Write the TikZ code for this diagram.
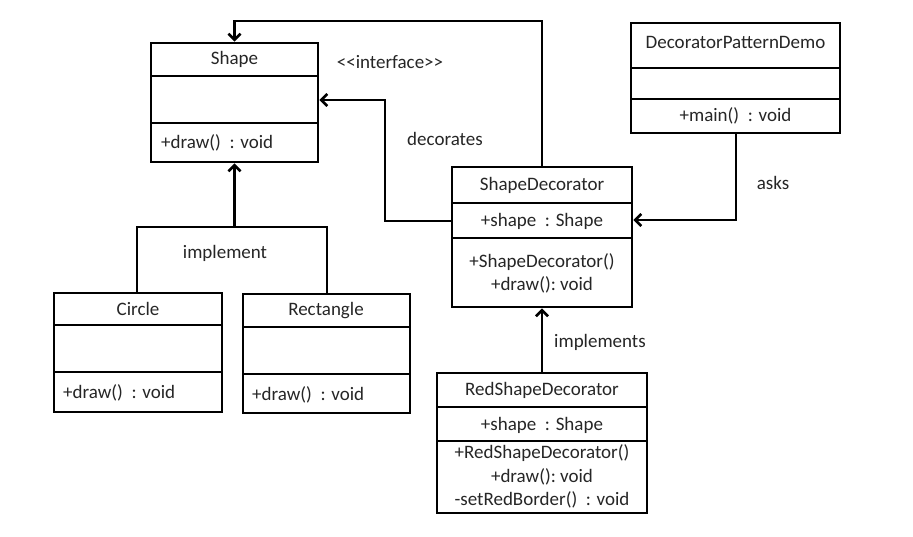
\documentclass[tikz,border=0pt]{standalone}
\usepackage{fontspec}
\setmainfont{Carlito}
\usetikzlibrary{arrows.meta,fit}
\tikzset{
  ln/.style={line width=2.7pt, draw=black},
  box/.style={ln, rectangle, inner sep=0pt, fit={#1}},
  txt/.style={font=\fontsize{19}{23}\selectfont, text=black!85, inner sep=1pt},
  arr/.style={ln, -{Straight Barb[length=6pt,width=12pt,line width=2.7pt]}},
}
\newcommand\umlbox[7]{%
  \node[box={(#2,#3) (#4,#7)}] (#1) {};
  \draw[ln] (#2,#5) -- (#4,#5);
  \draw[ln] (#2,#6) -- (#4,#6);
}
\begin{document}
\begin{tikzpicture}[x=1pt,y=-1pt]
\useasboundingbox (0,0) rectangle (913,536);
\fill[white] (0,0) rectangle (913,536);

% boxes
\umlbox{shape}{151}{43}{318}{76}{123}{162}
\umlbox{circle}{54}{293}{222}{325}{372}{412}
\umlbox{rect}{243}{294}{410}{327}{374}{413}
\umlbox{sd}{452}{167}{632}{203}{238}{307}
\umlbox{rsd}{437}{373}{647}{407}{441}{513}
\umlbox{demo}{631}{23}{840}{68}{99}{133}

% texts
\node[txt] (shapeN) at (234.5,59.5) {Shape};
\node[txt, anchor=west] (shapeM) at (160,143) {+draw()\ \ : void};
\node[txt] (circleN) at (138,309) {Circle};
\node[txt, anchor=west] (circleM) at (62,393) {+draw()\ \ : void};
\node[txt] (rectN) at (326,311) {Rectangle};
\node[txt, anchor=west] (rectM) at (251,395) {+draw()\ \ : void};
\node[txt] (sdN) at (542,185) {ShapeDecorator};
\node[txt] (sdA) at (542,221) {+shape\ \ : Shape};
\node[txt] (sdM1) at (542,262) {+ShapeDecorator()};
\node[txt] (sdM2) at (542,285) {+draw():\ void};
\node[txt] (rsdN) at (542,390) {RedShapeDecorator};
\node[txt] (rsdA) at (542,425) {+shape\ \ : Shape};
\node[txt] (rsdM1) at (542,453) {+RedShapeDecorator()};
\node[txt] (rsdM2) at (542,477) {+draw():\ void};
\node[txt] (rsdM3) at (542,500) {-setRedBorder()\ \ : void};
\node[txt] (demoN) at (735.5,42) {DecoratorPatternDemo};
\node[txt] (demoM) at (735.5,116) {+main()\ \ : void};

% labels
\node[txt] (lInterface) at (390,62) {{<}{<}interface{>}{>}};
\node[txt] (lDecorates) at (445,139) {decorates};
\node[txt] (lImplement) at (225,253) {implement};
\node[txt] (lImplements) at (600,342) {implements};
\node[txt] (lAsks) at (773,183) {asks};

% connectors
\coordinate (bar) at (234.5,227);
\draw[arr] (circle.north -| 137,0) |- (bar) -- (shape.south);
\draw[ln] (rect.north -| 327,0) |- (bar);
\draw[arr] (sd.west |- 0,221) -| (385,100) -- (shape.east |- 0,100);
\draw[arr] (sd.north -| 542,0) |- (234.5,21) -- (shape.north);
\draw[arr] (demo.south -| 736,0) |- (sd.east |- 0,220);
\draw[arr] (rsd.north -| 542,0) -- (sd.south -| 542,0);
\end{tikzpicture}
\end{document}
